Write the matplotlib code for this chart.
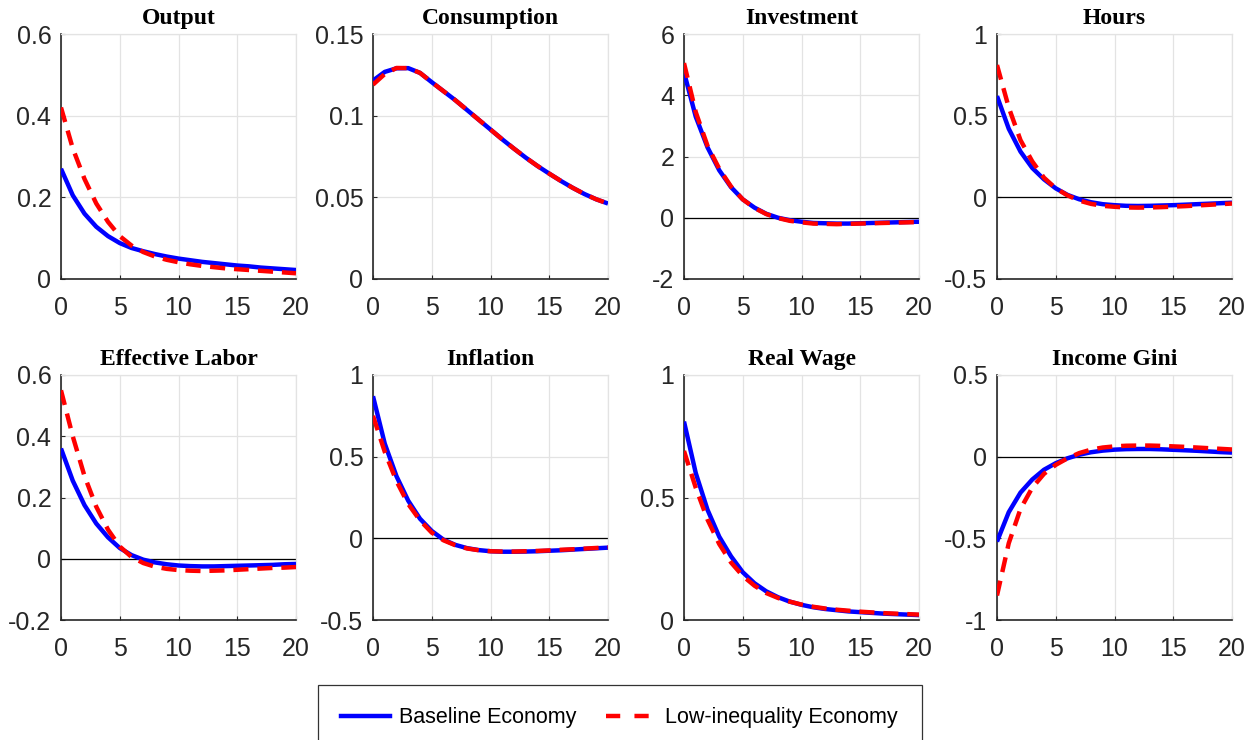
import matplotlib
matplotlib.use("Agg")
import matplotlib.pyplot as plt
from matplotlib.patches import Rectangle
from matplotlib.lines import Line2D
import numpy as np

horizon = np.arange(21)

titles = ["Output", "Consumption", "Investment", "Hours",
          "Effective Labor", "Inflation", "Real Wage", "Income Gini"]

# baseline economy (blue, solid)
base_output = [0.27, 0.205, 0.16, 0.128, 0.105, 0.088, 0.076, 0.068, 0.061, 0.055, 0.05,
               0.046, 0.042, 0.039, 0.036, 0.033, 0.031, 0.028, 0.026, 0.024, 0.022]
base_cons = [0.1215, 0.1268, 0.1290, 0.1291, 0.1262, 0.1205, 0.1150, 0.1095, 0.1035, 0.0975, 0.0915,
             0.0855, 0.0798, 0.0743, 0.0692, 0.0645, 0.0600, 0.0558, 0.0520, 0.0488, 0.0462]
base_inv = [4.75, 3.3, 2.3, 1.55, 1.0, 0.6, 0.33, 0.13, 0.0, -0.08, -0.13,
            -0.17, -0.18, -0.19, -0.19, -0.18, -0.17, -0.16, -0.15, -0.14, -0.13]
base_hours = [0.62, 0.42, 0.28, 0.18, 0.11, 0.055, 0.015, -0.012, -0.03, -0.042, -0.048,
              -0.052, -0.053, -0.052, -0.05, -0.048, -0.045, -0.042, -0.039, -0.036, -0.033]
base_efflab = [0.36, 0.255, 0.175, 0.115, 0.07, 0.035, 0.012, -0.003, -0.012, -0.018, -0.022,
               -0.024, -0.025, -0.025, -0.024, -0.023, -0.022, -0.021, -0.02, -0.018, -0.017]
base_infl = [0.87, 0.58, 0.38, 0.23, 0.12, 0.045, -0.008, -0.04, -0.06, -0.072, -0.079,
             -0.082, -0.082, -0.081, -0.079, -0.076, -0.073, -0.069, -0.065, -0.061, -0.057]
base_wage = [0.81, 0.6, 0.45, 0.34, 0.26, 0.195, 0.15, 0.117, 0.093, 0.075, 0.062,
             0.052, 0.045, 0.04, 0.035, 0.032, 0.029, 0.026, 0.024, 0.022, 0.02]
base_gini = [-0.52, -0.34, -0.22, -0.14, -0.08, -0.04, -0.01, 0.012, 0.027, 0.037, 0.043,
             0.046, 0.047, 0.047, 0.045, 0.042, 0.039, 0.036, 0.032, 0.028, 0.025]

# low-inequality economy (red, dashed)
low_output = [0.42, 0.32, 0.245, 0.185, 0.14, 0.105, 0.082, 0.066, 0.055, 0.047, 0.041,
              0.036, 0.032, 0.029, 0.026, 0.024, 0.022, 0.020, 0.018, 0.016, 0.014]
low_cons = [0.119, 0.1255, 0.1292, 0.1291, 0.1262, 0.1205, 0.1150, 0.1095, 0.1035, 0.0975, 0.0915,
            0.0855, 0.0798, 0.0743, 0.0692, 0.0645, 0.0600, 0.0558, 0.0520, 0.0488, 0.0462]
low_inv = [5.05, 3.45, 2.35, 1.6, 1.02, 0.6, 0.32, 0.12, -0.01, -0.1, -0.15,
           -0.19, -0.2, -0.21, -0.2, -0.19, -0.18, -0.17, -0.16, -0.15, -0.14]
low_hours = [0.81, 0.55, 0.35, 0.22, 0.12, 0.055, 0.012, -0.02, -0.04, -0.052, -0.058,
             -0.062, -0.063, -0.062, -0.06, -0.057, -0.054, -0.05, -0.046, -0.042, -0.038]
low_efflab = [0.55, 0.40, 0.27, 0.17, 0.095, 0.04, 0.006, -0.014, -0.026, -0.033, -0.037,
              -0.039, -0.04, -0.039, -0.038, -0.036, -0.034, -0.032, -0.03, -0.029, -0.027]
low_infl = [0.75, 0.53, 0.35, 0.21, 0.11, 0.035, -0.012, -0.042, -0.062, -0.073, -0.079,
            -0.081, -0.081, -0.079, -0.077, -0.074, -0.07, -0.067, -0.063, -0.059, -0.055]
low_wage = [0.69, 0.54, 0.41, 0.31, 0.235, 0.18, 0.14, 0.11, 0.09, 0.075, 0.063,
            0.054, 0.047, 0.042, 0.038, 0.034, 0.031, 0.028, 0.026, 0.024, 0.022]
low_gini = [-0.85, -0.53, -0.32, -0.19, -0.105, -0.05, -0.01, 0.022, 0.043, 0.056, 0.063,
            0.067, 0.068, 0.068, 0.066, 0.063, 0.06, 0.056, 0.052, 0.048, 0.044]

baseline = [base_output, base_cons, base_inv, base_hours,
            base_efflab, base_infl, base_wage, base_gini]
lowineq = [low_output, low_cons, low_inv, low_hours,
           low_efflab, low_infl, low_wage, low_gini]

ylims = [(0, 0.6), (0, 0.15), (-2, 6), (-0.5, 1),
         (-0.2, 0.6), (-0.5, 1), (0, 1), (-1, 0.5)]
yticks = [[0, 0.2, 0.4, 0.6], [0, 0.05, 0.1, 0.15], [-2, 0, 2, 4, 6], [-0.5, 0, 0.5, 1],
          [-0.2, 0, 0.2, 0.4, 0.6], [-0.5, 0, 0.5, 1], [0, 0.5, 1], [-1, -0.5, 0, 0.5]]
yticklabels = [["0", "0.2", "0.4", "0.6"], ["0", "0.05", "0.1", "0.15"],
               ["-2", "0", "2", "4", "6"], ["-0.5", "0", "0.5", "1"],
               ["-0.2", "0", "0.2", "0.4", "0.6"], ["-0.5", "0", "0.5", "1"],
               ["0", "0.5", "1"], ["-1", "-0.5", "0", "0.5"]]

W, H = 1257, 740
fig = plt.figure(figsize=(W / 100, H / 100), dpi=100)

lefts = [61, 373, 684, 997]
tops = [34, 375]
aw, ah = 235, 245

axcol = "#262626"
tick_font = "Liberation Sans"

for i in range(8):
    r, c = divmod(i, 4)
    ax = fig.add_axes([lefts[c] / W, 1 - (tops[r] + ah) / H, aw / W, ah / H])
    ax.grid(True, color="#e3e3e3", linewidth=0.9)
    ax.set_axisbelow(True)
    if ylims[i][0] < 0:
        ax.axhline(0, color="black", linewidth=0.9, zorder=1.5)
    ax.plot(horizon, baseline[i], color="blue", linewidth=3.2, solid_capstyle="butt", zorder=3)
    ax.plot(horizon, lowineq[i], color="red", linewidth=3.2, dashes=(3.4, 2.0), zorder=4)
    ax.set_xlim(0, 20)
    ax.set_ylim(*ylims[i])
    ax.set_xticks([0, 5, 10, 15, 20])
    ax.set_yticks(yticks[i])
    ax.set_yticklabels(yticklabels[i])
    for lab in ax.get_xticklabels() + ax.get_yticklabels():
        lab.set_fontfamily(tick_font)
        lab.set_fontsize(18)
        lab.set_color(axcol)
    ax.tick_params(direction="in", length=3, width=0.8, color=axcol)
    ax.tick_params(axis="x", pad=12)
    ax.tick_params(axis="y", pad=7)
    for s in ["left", "bottom"]:
        ax.spines[s].set_color(axcol)
        ax.spines[s].set_linewidth(1.2)
    for s in ["top", "right"]:
        ax.spines[s].set_color("#e3e3e3")
        ax.spines[s].set_linewidth(0.9)
    ax.set_title(titles[i], fontfamily="Liberation Serif", fontweight="bold",
                 fontsize=17, pad=7)

# legend box at the bottom
fig.patches.append(Rectangle((318 / W, 1 - 748 / H), 604 / W, 63 / H,
                             transform=fig.transFigure, facecolor="white",
                             edgecolor="#333333", linewidth=0.9))
handles = [Line2D([], [], color="blue", linewidth=3.2),
           Line2D([], [], color="red", linewidth=3.2, dashes=(3.2, 3.2))]
fig.legend(handles, ["Baseline Economy", "Low-inequality Economy"],
           loc="center", bbox_to_anchor=(619 / W, 1 - 718 / H), ncol=2, frameon=False,
           prop={"family": tick_font, "size": 15.5}, handlelength=2.3,
           handletextpad=0.4, columnspacing=1.4)

fig.savefig("out.png", dpi=100)
